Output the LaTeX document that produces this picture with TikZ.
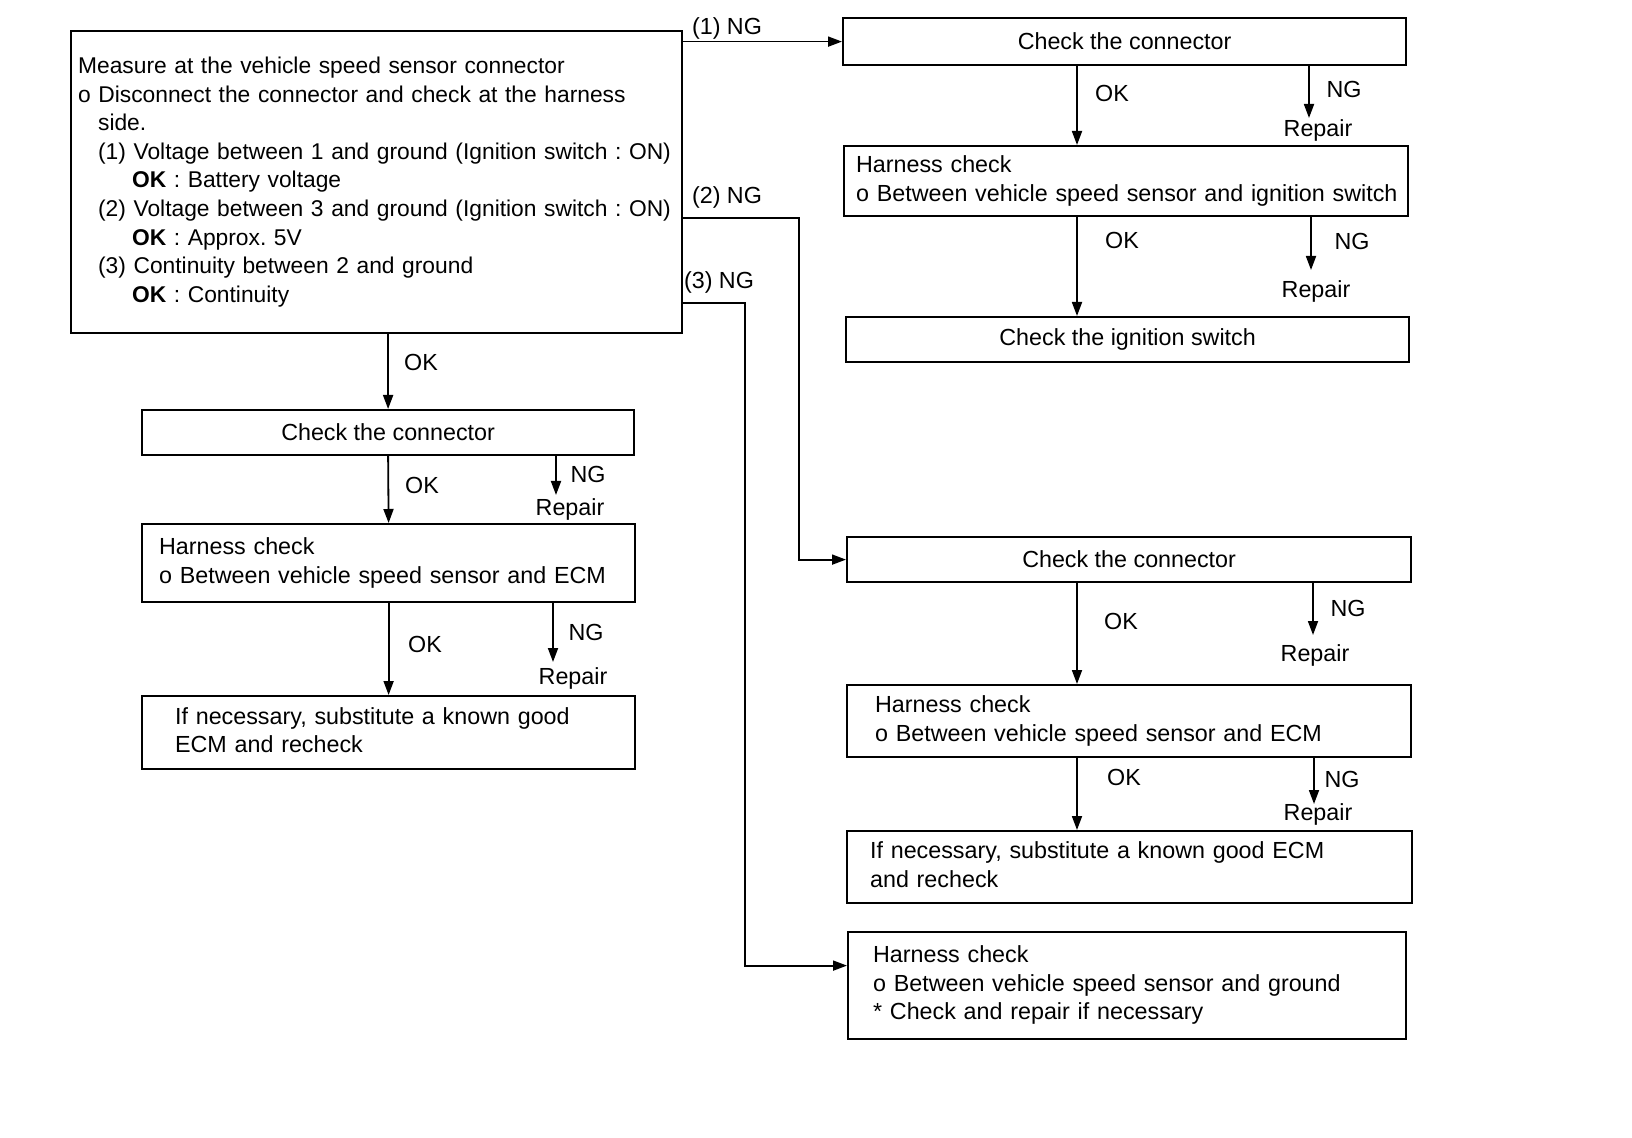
\documentclass[tikz,border=0pt]{standalone}
\usepackage{fontspec}
\setmainfont{Liberation Sans}
\usetikzlibrary{arrows.meta}
\frenchspacing

\begin{document}
\begin{tikzpicture} [x=0.5pt, y=-0.5pt,
  every node/.style={font=\fontsize{11.65}{14.3}\selectfont},
  box/.style={draw, line width=1.1pt, inner sep=0pt, anchor=north west},
  lbox/.style={box, align=left, text width=#1, minimum width=#1},
  lbl/.style={inner sep=1pt},
  arr/.style={line width=0.9pt, -{Triangle[length=7pt, width=5pt]}}]
\useasboundingbox (0,0) rectangle (1632,1138);

% first check
\node[lbox=305.5pt, minimum height=151pt, font=\fontsize{11.4}{14.3}\selectfont] (main) at (70,30) {\hspace*{3.5pt}%
\begin{tabular}{@{}l@{}}
Measure at the vehicle speed sensor connector\\
o Disconnect the connector and check at the harness\\
\hspace*{10pt}side.\\
\hspace*{10pt}(1) Voltage between 1 and ground (Ignition switch : ON)\\
\hspace*{27pt}\textbf{OK} : Battery voltage\\
\hspace*{10pt}(2) Voltage between 3 and ground (Ignition switch : ON)\\
\hspace*{27pt}\textbf{OK} : Approx. 5V\\
\hspace*{10pt}(3) Continuity between 2 and ground\\
\hspace*{27pt}\textbf{OK} : Continuity
\end{tabular}};

% left column
\node[box, minimum width=246pt, minimum height=22.5pt] (cl) at (141,409) {Check the connector};
\node[lbox=246.5pt, minimum height=39pt] (hl) at (141,523) {\hspace*{8.5pt}%
\begin{tabular}{@{}l@{}}
Harness check\\
o Between vehicle speed sensor and ECM
\end{tabular}};
\node[lbox=246.5pt, minimum height=36.5pt] (el) at (141,695) {\hspace*{16.5pt}%
\begin{tabular}{@{}l@{}}
If necessary, substitute a known good\\
ECM and recheck
\end{tabular}};

% right column
\node[box, minimum width=281.5pt, minimum height=23.5pt] (cr1) at (842,17) {Check the connector};
\node[lbox=282pt, minimum height=35pt] (hr1) at (843,145) {\hspace*{6pt}%
\begin{tabular}{@{}l@{}}
Harness check\\
o Between vehicle speed sensor and ignition switch
\end{tabular}};
\node[box, minimum width=281.5pt, minimum height=22.5pt] (ig) at (845,316) {Check the ignition switch};
\node[box, minimum width=282pt, minimum height=22.5pt] (cr2) at (846,536) {Check the connector};
\node[lbox=282pt, minimum height=36pt] (hr2) at (846,684) {\hspace*{14pt}%
\begin{tabular}{@{}l@{}}
Harness check\\
o Between vehicle speed sensor and ECM
\end{tabular}};
\node[lbox=282.5pt, minimum height=36pt] (er) at (846,830) {\hspace*{11.5pt}%
\begin{tabular}{@{}l@{}}
If necessary, substitute a known good ECM\\
and recheck
\end{tabular}};
\node[lbox=279pt, minimum height=53.5pt] (hg) at (847,931) {\hspace*{12.5pt}%
\begin{tabular}{@{}l@{}}
Harness check\\
o Between vehicle speed sensor and ground\\
{*} Check and repair if necessary
\end{tabular}};

% NG branches
\node[lbl] (ngm1) at (727,28) {(1) NG};
\node[lbl] (ngm2) at (727,197) {(2) NG};
\node[lbl] (ngm3) at (719,282) {(3) NG};
\coordinate (bend2) at (799,218);
\coordinate (bend3) at (745,303);
\draw[arr] (main.north east |- cr1.west) -- (cr1.west);
\draw[arr] (main.east |- bend2) -- (bend2) |- (cr2.west);
\draw[arr] (main.east |- bend3) -- (bend3) |- ([yshift=10pt]hg.west);

% OK arrows
\coordinate (okr) at (1077,0);
\draw[arr] (main.south -| cl.north) -- (cl.north);
\draw[arr] (cl.south) -- (hl.north);
\draw[arr] (hl.south) -- (el.north);
\draw[arr] (cr1.south -| okr) -- (hr1.north -| okr);
\draw[arr] (hr1.south -| okr) -- (ig.north -| okr);
\draw[arr] (cr2.south -| okr) -- (hr2.north -| okr);
\draw[arr] (hr2.south -| okr) -- (er.north -| okr);

% repair arrows
\coordinate (nga) at (556,495);
\coordinate (ngb) at (553,662);
\coordinate (ngc) at (1309,118);
\coordinate (ngd) at (1311,270);
\coordinate (nge) at (1313,635);
\coordinate (ngf) at (1314,804);
\draw[arr] (cl.south -| nga) -- (nga);
\draw[arr] (hl.south -| ngb) -- (ngb);
\draw[arr] (cr1.south -| ngc) -- (ngc);
\draw[arr] (hr1.south -| ngd) -- (ngd);
\draw[arr] (cr2.south -| nge) -- (nge);
\draw[arr] (hr2.south -| ngf) -- (ngf);

% labels
\foreach \x/\y [count=\i] in {421/362, 422/485, 425/644, 1112/93, 1122/240, 1121/621, 1124/777}
 \node[lbl] (ok\i) at (\x,\y) {OK};
\foreach \x/\y [count=\i] in {588/474, 586/632, 1344/89, 1352/241, 1348/608, 1342/779}
 \node[lbl] (ng\i) at (\x,\y) {NG};
\foreach \x/\y [count=\i] in {570/509, 573/678, 1318/130, 1316/291, 1315/655, 1318/814}
 \node[lbl] (rep\i) at (\x,\y) {Repair};

\end{tikzpicture}
\end{document}
